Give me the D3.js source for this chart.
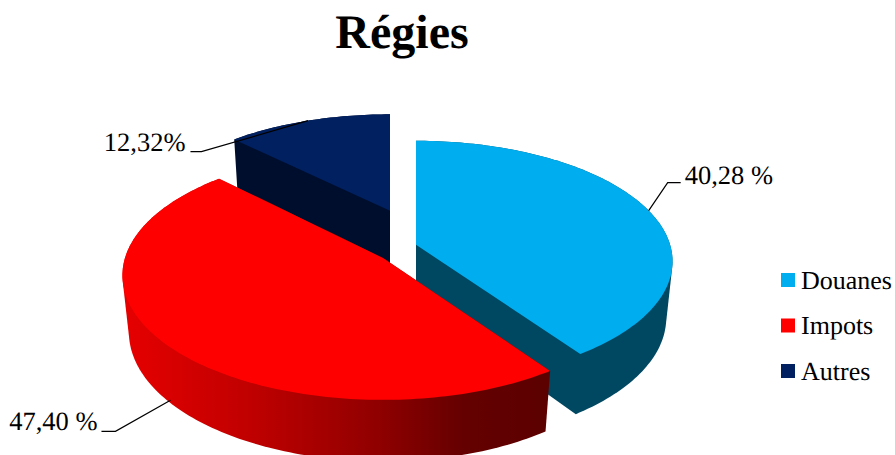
<!DOCTYPE html>
<html><head><meta charset="utf-8">
<script src="https://cdn.jsdelivr.net/npm/d3@7/dist/d3.min.js"></script>
<style>html,body{margin:0;padding:0;background:#fff}svg{display:block}text{font-family:"Liberation Serif",serif;fill:#000;text-rendering:geometricPrecision}</style>
</head><body><svg id="c" width="895" height="455"></svg>
<script>
const categories = ["Douanes", "Impots", "Autres"];
const values = [40.28, 47.40, 12.32];
const valueLabels = ["40,28 %", "47,40 %", "12,32%"];
const topColors = ["#00aeef", "#ff0000", "#002060"];
const wallColors = ["#004761", "url(#redWall)", "#000e2e"];
const shiftX = [28, -5, 2];
const explodeV = [-0.11, 0, -0.41];
const leaderDepth = [0, 0.95, 0];
const leaderElbow = [[19, -28], [-55, 31], [-106.5, 31]];
const leaderEnd = [[32, -28], [-69, 31], [-117.5, 30]];
const labelAnchor = ["start", "end", "end"];
const labelShift = [[36, -27], [-73, 30], [-122.5, 30]];

const W = 895, H = 455;
const svg = d3.select("#c");
const cx = 388, cy = 258, R = 258, Ry = 122, k = 0.14, m = 0.025, depth = 58;

function project(i, u, v, z) {
  const w = 1 - k * v + m * z;
  return [cx + shiftX[i] + R * u / w, cy + (Ry * v + depth * z) / w];
}
const arcs = d3.pie().sort(null).value(d => d)(values);
const color = d3.scaleOrdinal().domain(categories).range(topColors);
const line = d3.line();

function outline(i) {
  const d = arcs[i];
  const n = Math.ceil((d.endAngle - d.startAngle) / 0.02);
  const rim = d3.range(n + 1).map(j => {
    const a = d.startAngle + (d.endAngle - d.startAngle) * j / n;
    return [Math.sin(a), -Math.cos(a) + explodeV[i]];
  });
  return [[0, explodeV[i]], ...rim];
}

const defs = svg.append("defs");
const grad = defs.append("linearGradient").attr("id", "redWall")
  .attr("gradientUnits", "userSpaceOnUse").attr("x1", 125).attr("x2", 550).attr("y1", 0).attr("y2", 0);
[[0, "#e60000"], [0.3, "#bf0000"], [0.6, "#8f0000"], [0.8, "#640000"], [1, "#5c0000"]].forEach(s =>
  grad.append("stop").attr("offset", s[0]).attr("stop-color", s[1]));

[2, 0, 1].forEach(i => {
  const pts = outline(i);
  const topPts = pts.map(p => project(i, p[0], p[1], 0));
  const botPts = pts.map(p => project(i, p[0], p[1], 1));
  svg.append("path").attr("d", line(d3.polygonHull([...topPts, ...botPts])) + "Z").attr("fill", wallColors[i]);
  svg.append("path").attr("d", line(topPts) + "Z").attr("fill", color(categories[i]));
});

arcs.forEach((d, i) => {
  const mid = (d.startAngle + d.endAngle) / 2;
  const a = project(i, Math.sin(mid), -Math.cos(mid) + explodeV[i], leaderDepth[i]);
  const path = [a, [a[0] + leaderElbow[i][0], a[1] + leaderElbow[i][1]], [a[0] + leaderEnd[i][0], a[1] + leaderElbow[i][1]]];
  svg.append("path").attr("d", line(path)).attr("fill", "none").attr("stroke", "#000").attr("stroke-width", 1.2);
  svg.append("text").attr("x", a[0] + labelShift[i][0]).attr("y", a[1] + labelShift[i][1])
    .attr("text-anchor", labelAnchor[i]).attr("font-size", 26.5).text(valueLabels[i]);
});

svg.append("text").attr("x", 402).attr("y", 48).attr("text-anchor", "middle")
  .attr("font-size", 48).attr("font-weight", "bold").text("Régies");

const legendY = d3.scalePoint().domain(categories).range([280, 371]);
categories.forEach(c => {
  svg.append("rect").attr("x", 781).attr("y", legendY(c) - 7).attr("width", 14).attr("height", 14).attr("fill", color(c));
  svg.append("text").attr("x", 801).attr("y", legendY(c) + 8.5).attr("font-size", 26).text(c);
});
</script></body></html>
